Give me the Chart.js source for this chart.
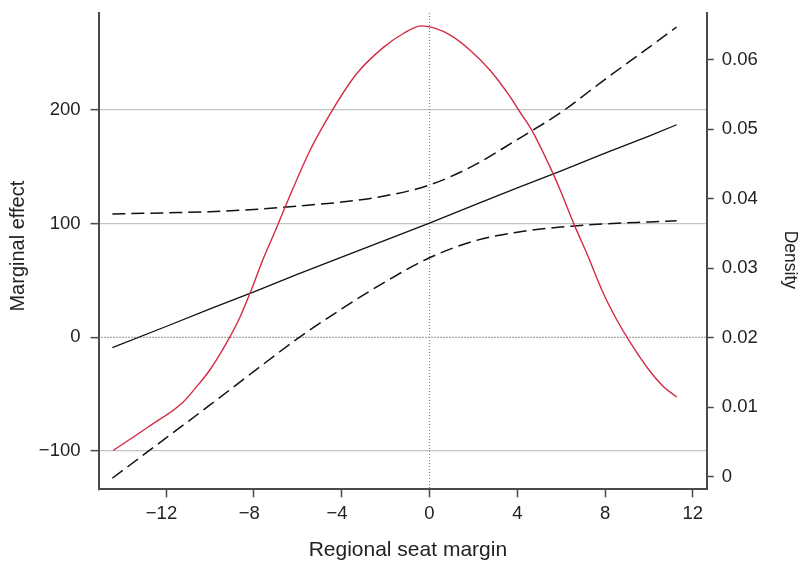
<!DOCTYPE html>
<html>
<head>
<meta charset="utf-8">
<script src="https://cdn.jsdelivr.net/npm/chart.js@4.4.1/dist/chart.umd.min.js"></script>
<style>
html,body{margin:0;padding:0;background:#fff;overflow:hidden;}
canvas{display:block;}
</style>
</head>
<body>
<canvas id="c" width="805" height="561"></canvas>
<script>
// ---- data ----
const lineX      = [-14.45, -12, -10, -8, -6, -4, -2, 0, 2, 4, 6, 8, 10, 11.26];
const effect     = [-9, 9.5, 25, 40, 55.5, 70.5, 85.5, 100.5, 116, 131.5, 146.5, 162, 177, 187];
const upperCI    = [108.5, 109.5, 110.5, 112.5, 115.5, 119, 124.5, 134, 151, 174, 198, 227, 255, 273];
const lowerCI    = [-124, -88.5, -59.5, -30, -1, 25, 49, 70, 84.5, 92.5, 97, 99.8, 101.5, 102.5];

const densityX   = [-14.4, -12.8, -11.24, -10.6, -10.0, -9.24, -8.63, -8.18, -7.57, -7.0, -6.5, -5.44, -4.38, -3.32, -2.1, -1.19, -0.36, 0.3, 0.93, 1.85, 2.76, 3.67, 4.12, 4.66, 5.49, 5.95, 6.63, 7.16, 7.92, 8.53, 9.13, 9.9, 10.65, 11.26];
const densityY   = [0.0038, 0.0072, 0.0107, 0.0130, 0.0154, 0.0193, 0.0230, 0.0264, 0.0314, 0.0356, 0.0394, 0.0470, 0.0530, 0.0580, 0.0618, 0.0638, 0.0649, 0.0645, 0.0636, 0.0614, 0.0585, 0.0547, 0.0525, 0.0499, 0.0446, 0.0413, 0.0360, 0.0322, 0.0264, 0.0226, 0.0194, 0.0158, 0.0130, 0.0115];

const xTicks     = [-12, -8, -4, 0, 4, 8, 12];
const xTickText  = ["\u221212", "\u22128", "\u22124", "0", "4", "8", "12"];
const yTicks     = [-100, 0, 100, 200];
const yTickText  = ["\u2212100", "0", "100", "200"];
const dTicks     = [0, 0.01, 0.02, 0.03, 0.04, 0.05, 0.06];
const dTickText  = ["0", "0.01", "0.02", "0.03", "0.04", "0.05", "0.06"];

const xTitle = "Regional seat margin";
const yTitle = "Marginal effect";
const dTitle = "Density";

// ---- build ----
const pts = (xs, ys) => xs.map((x, i) => ({x: x, y: ys[i]}));
const FONT = "'Liberation Sans', Arial, Helvetica, sans-serif";
const TXT = '#222';
const AXIS = '#4a4a4a';

const refLines = {
  id: 'refLines',
  beforeDatasetsDraw(chart) {
    const {ctx, chartArea: a, scales} = chart;
    const y0 = scales.y.getPixelForValue(0);
    const x0 = scales.x.getPixelForValue(0);
    ctx.save();
    ctx.lineWidth = 1.2;
    ctx.setLineDash([1, 2]);
    ctx.strokeStyle = '#555';
    ctx.beginPath(); ctx.moveTo(a.left, y0); ctx.lineTo(a.right, y0); ctx.stroke();
    ctx.strokeStyle = '#888';
    ctx.beginPath(); ctx.moveTo(x0, a.top); ctx.lineTo(x0, a.bottom); ctx.stroke();
    ctx.restore();
  }
};

const setTicks = (vals) => (scale) => { scale.ticks = vals.map(v => ({value: v})); };
const fixV = (w) => (s) => { s.width = w; s.paddingTop = 0; s.paddingBottom = 0; };
const fixH = (h) => (s) => { s.height = h; s.paddingLeft = 0; s.paddingRight = 0; };

new Chart(document.getElementById('c'), {
  type: 'line',
  data: {
    datasets: [
      {data: pts(densityX, densityY), yAxisID: 'y2', borderColor: '#d42a45', borderWidth: 1.4, pointRadius: 0, cubicInterpolationMode: 'monotone'},
      {data: pts(lineX, effect), yAxisID: 'y', borderColor: '#111', borderWidth: 1.3, pointRadius: 0},
      {data: pts(lineX, upperCI), yAxisID: 'y', borderColor: '#111', borderWidth: 1.5, borderDash: [13, 6], pointRadius: 0, cubicInterpolationMode: 'monotone'},
      {data: pts(lineX, lowerCI), yAxisID: 'y', borderColor: '#111', borderWidth: 1.5, borderDash: [13, 6], pointRadius: 0, cubicInterpolationMode: 'monotone'}
    ]
  },
  options: {
    responsive: false,
    animation: false,
    devicePixelRatio: 1,
    layout: {padding: {top: 13, left: 0, right: 0, bottom: 0}},
    plugins: {legend: {display: false}, tooltip: {enabled: false}},
    scales: {
      x: {
        type: 'linear', position: 'bottom', min: -15.08, max: 12.63,
        afterBuildTicks: setTicks(xTicks),
        afterFit: fixH(71.7),
        border: {display: true, color: AXIS, width: 2},
        grid: {drawOnChartArea: false, drawTicks: true, tickLength: 8, tickColor: AXIS, tickWidth: 1.5},
        ticks: {
          maxRotation: 0, autoSkip: false, padding: 6, color: TXT,
          font: {family: FONT, size: 18.5},
          callback: (v) => { const i = xTicks.indexOf(v); const t = xTickText[i]; return v < 0 ? t + '\u2002' : t; }
        },
        title: {display: true, text: '\u2002' + xTitle, color: TXT, font: {family: FONT, size: 21, lineHeight: 1}, padding: {top: 0, bottom: 0}}
      },
      y: {
        type: 'linear', position: 'left', min: -133.7, max: 285.3,
        afterBuildTicks: setTicks(yTicks),
        afterFit: fixV(98.5),
        border: {display: true, color: AXIS, width: 2},
        grid: {
          drawOnChartArea: true, drawTicks: true, tickLength: 8, tickWidth: 1.5,
          tickColor: AXIS, lineWidth: 1.3,
          color: (ctx) => (ctx.tick && ctx.tick.value === 0) ? 'rgba(0,0,0,0)' : '#c4c4c4'
        },
        ticks: {
          autoSkip: false, padding: 10, color: TXT, font: {family: FONT, size: 18.5},
          callback: (v) => yTickText[yTicks.indexOf(v)]
        },
        title: {display: true, text: '\u2002' + yTitle, color: TXT, font: {family: FONT, size: 20, lineHeight: 1}, padding: {top: 8, bottom: 0}}
      },
      y2: {
        type: 'linear', position: 'right', min: -0.00181, max: 0.06675,
        afterBuildTicks: setTicks(dTicks),
        afterFit: fixV(98.3),
        border: {display: true, color: AXIS, width: 2},
        grid: {drawOnChartArea: false, drawTicks: true, tickLength: 7, tickWidth: 1.5, tickColor: AXIS},
        ticks: {
          autoSkip: false, padding: 8, color: TXT, font: {family: FONT, size: 18.5},
          callback: (v) => dTickText[dTicks.indexOf(v)]
        },
        title: {display: true, text: '\u2003' + dTitle, color: TXT, font: {family: FONT, size: 17.5, lineHeight: 1}, padding: {top: 6, bottom: 0}}
      }
    }
  },
  plugins: [refLines]
});
</script>
</body>
</html>
